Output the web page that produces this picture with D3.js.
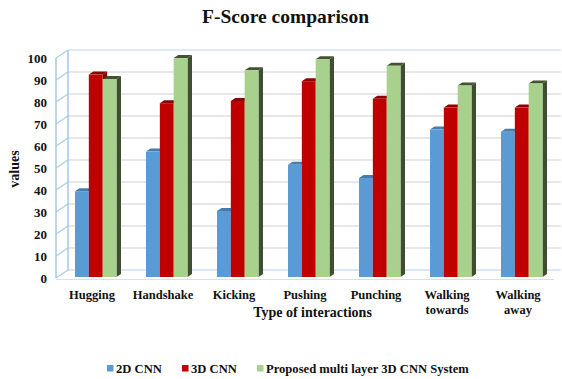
<!DOCTYPE html>
<html>
<head>
<meta charset="utf-8">
<script src="https://cdn.jsdelivr.net/npm/d3@7"></script>
<style>
  html, body { margin: 0; padding: 0; background: #fff; }
  svg { display: block; }
  text { font-family: "Liberation Serif", serif; font-weight: bold; fill: #111; }
</style>
</head>
<body>
<svg id="chart" width="562" height="379"></svg>
<script>
const categories = ["Hugging", "Handshake", "Kicking", "Pushing", "Punching", "Walking towards", "Walking away"];
const seriesNames = ["2D CNN", "3D CNN", "Proposed multi layer 3D CNN System"];
const cnn2d = [39, 57, 30, 51, 45, 67, 66];
const cnn3d = [92, 79, 80, 89, 81, 77, 77];
const proposed = [90, 99.5, 94, 99, 96, 87, 88];
const seriesValues = [cnn2d, cnn3d, proposed];
const yTicks = [0, 10, 20, 30, 40, 50, 60, 70, 80, 90, 100];
const faceColors = ["#5b9bd5", "#c00000", "#a9d18e"];
const topColors = ["#437cb0", "#8f0000", "#445233"];
const sideColors = ["#3f6f9c", "#8a0000", "#3f4d31"];

const svg = d3.select("#chart");
const frontY = 1;   // the frame's front edge sits just below the bar scale
const backY = -7;   // the back wall is pushed up by the chart's depth
const wallX = { front: 56, back: 68, right: 561, floorEnd: 554 };
const barDepth = { x: 4.5, y: -3 };

const y = d3.scaleLinear().domain([0, 100]).range([277, 57]);
const x0 = d3.scaleBand().domain(categories).range([60, 557]);
const x1 = d3.scaleBand().domain(d3.range(seriesNames.length)).range([15, 56.5]);

// Chart title
svg.append("text").attr("x", 285.5).attr("y", 23)
  .attr("text-anchor", "middle").style("font-size", "19.5px").text("F-Score comparison");

// Back wall and left wall of the 3D frame
const wall = svg.append("g").attr("fill", "none");
wall.selectAll("line.grid").data(yTicks.slice(1, -1)).join("line")
  .attr("x1", wallX.back).attr("x2", wallX.right)
  .attr("y1", d => y(d) + backY).attr("y2", d => y(d) + backY)
  .attr("stroke", "#dfdfdf").attr("stroke-width", 1.5);
wall.selectAll("line.slant").data(yTicks).join("line")
  .attr("x1", wallX.front).attr("x2", wallX.back)
  .attr("y1", d => y(d) + frontY).attr("y2", d => y(d) + backY)
  .attr("stroke", "#a9cbe9").attr("stroke-width", 1.2);

const frame = "#a3c7e8";
wall.append("line").attr("x1", wallX.front).attr("x2", wallX.front)
  .attr("y1", y(100) + frontY).attr("y2", y(0) + frontY)
  .attr("stroke", frame).attr("stroke-width", 1.5);
wall.append("line").attr("x1", wallX.back).attr("x2", wallX.back)
  .attr("y1", y(100) + backY).attr("y2", y(0) + backY)
  .attr("stroke", frame).attr("stroke-width", 1.5);
wall.append("line").attr("x1", wallX.back).attr("x2", wallX.right)
  .attr("y1", y(100) + backY).attr("y2", y(100) + backY)
  .attr("stroke", "#bcd6ee").attr("stroke-width", 1.2);
wall.append("line").attr("x1", wallX.back).attr("x2", wallX.right)
  .attr("y1", y(0) + backY).attr("y2", y(0) + backY)
  .attr("stroke", "#b5d2ec").attr("stroke-width", 1.2);
wall.append("line").attr("x1", wallX.front).attr("x2", wallX.floorEnd)
  .attr("y1", y(0) + 2.5).attr("y2", y(0) + 2.5)
  .attr("stroke", "#d9dfe4").attr("stroke-width", 1.2);

// Extruded bars: each one is a front face, a top face and a right side face
const rows = categories.flatMap((c, i) => seriesNames.map((s, k) => ({ c, k, v: seriesValues[k][i] })));
const bars = svg.append("g").selectAll("g").data(rows).join("g")
  .attr("transform", d => `translate(${x0(d.c) + x1(d.k)},0)`);
const w = x1.bandwidth();
const base = y(0);

bars.append("path").attr("fill", d => sideColors[d.k])
  .attr("d", d => `M${w},${y(d.v)}L${w + barDepth.x},${y(d.v) + barDepth.y}L${w + barDepth.x},${base + barDepth.y}L${w},${base}Z`);
bars.append("path").attr("fill", d => topColors[d.k])
  .attr("d", d => `M0,${y(d.v)}L${barDepth.x},${y(d.v) + barDepth.y}L${w + barDepth.x},${y(d.v) + barDepth.y}L${w},${y(d.v)}Z`);
bars.append("rect").attr("fill", d => faceColors[d.k])
  .attr("x", 0).attr("width", w)
  .attr("y", d => y(d.v)).attr("height", d => base - y(d.v));

// Value axis labels
svg.append("g").selectAll("text").data(yTicks).join("text")
  .attr("x", 47).attr("y", d => y(d) + 5.5)
  .attr("text-anchor", "end").style("font-size", "13px").text(d => d);

svg.append("text").attr("transform", "translate(19,169) rotate(-90)")
  .attr("text-anchor", "middle").style("font-size", "14px").text("values");

// Category labels, wrapped onto two lines where they carry two words
const labels = svg.append("g").selectAll("text").data(categories).join("text")
  .attr("text-anchor", "middle").style("font-size", "12.5px")
  .attr("transform", d => `translate(${x0(d) + x0.step() / 2 - 3.5},299)`);
labels.selectAll("tspan").data(d => d.startsWith("Walking") ? d.split(" ") : [d]).join("tspan")
  .attr("x", 0).attr("dy", (d, i) => i ? 15 : 0).text(d => d);

svg.append("text").attr("x", 312.5).attr("y", 317)
  .attr("text-anchor", "middle").style("font-size", "14px").text("Type of interactions");

// Legend
const legendX = [107, 182, 257];
const legend = svg.append("g").selectAll("g").data(seriesNames).join("g")
  .attr("transform", (d, i) => `translate(${legendX[i]},373)`);
legend.append("rect").attr("x", 0).attr("y", -8).attr("width", 6.5).attr("height", 6.5)
  .attr("fill", (d, i) => faceColors[i]);
legend.append("text").attr("x", 9).attr("y", 0).style("font-size", "12.6px").text(d => d);
</script>
</body>
</html>
